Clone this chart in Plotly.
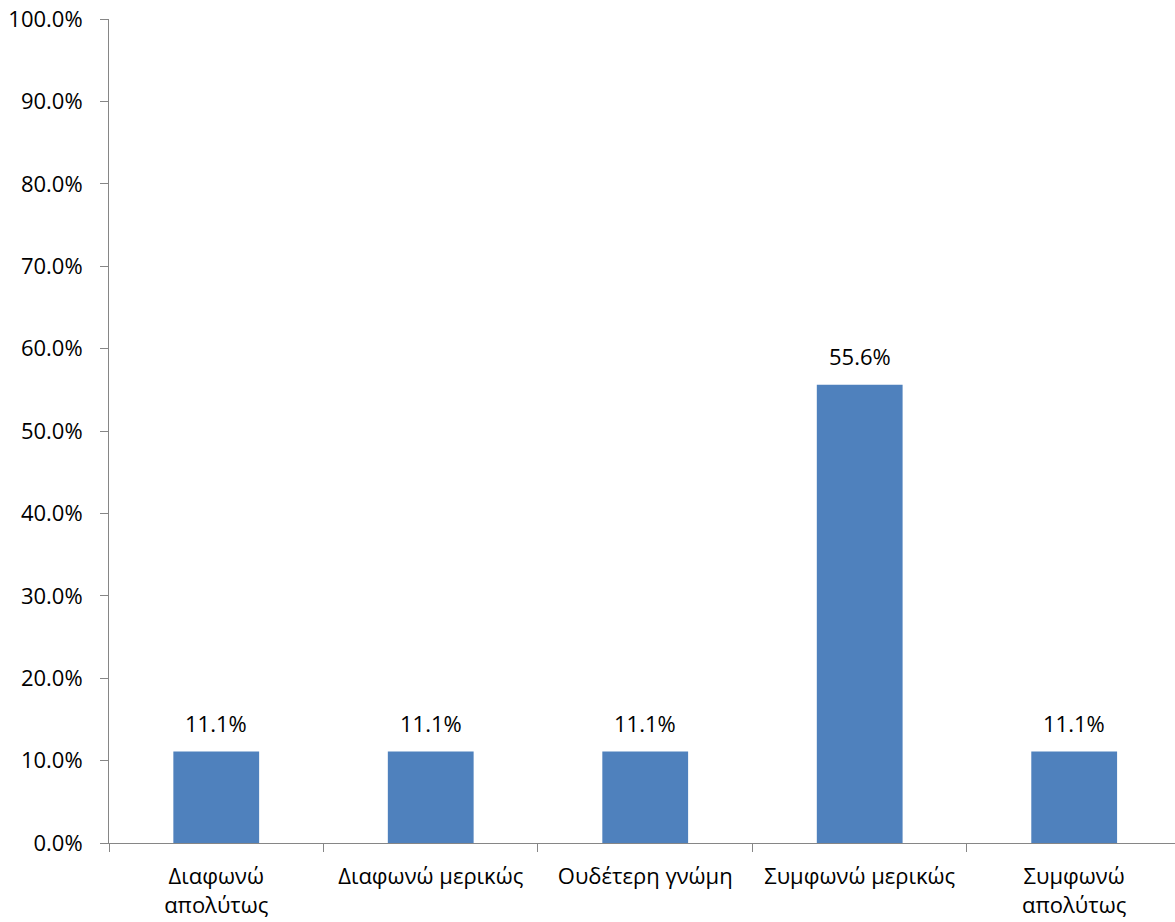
import plotly.graph_objects as go

categories = ["Διαφωνώ<br>απολύτως", "Διαφωνώ μερικώς", "Ουδέτερη γνώμη", "Συμφωνώ μερικώς", "Συμφωνώ<br>απολύτως"]
values = [0.111, 0.111, 0.111, 0.556, 0.111]
labels = ["11.1%", "11.1%", "11.1%", "55.6%", "11.1%"]
ytick_vals = [0, 0.1, 0.2, 0.3, 0.4, 0.5, 0.6, 0.7, 0.8, 0.9, 1.0]

FONT = "Open Sans"
FS = 22
fig = go.Figure()
fig.add_trace(go.Bar(x=categories, y=values, marker=dict(color="#4F81BD", line=dict(width=0)),
                     hoverinfo="skip"))
for c, v, t in zip(categories, values, labels):
    fig.add_annotation(x=c, y=v, text=t, showarrow=False, yanchor="bottom", yshift=12,
                       font=dict(family=FONT, size=FS, color="#000000"))

fig.update_layout(
    width=1175, height=922,
    margin=dict(l=109, r=0, t=19, b=79),
    paper_bgcolor="white", plot_bgcolor="white",
    bargap=0.6, showlegend=False,
    font=dict(family=FONT, size=FS, color="#000000"),
)
fig.update_xaxes(type="category", range=[-0.5, 4.47], tickson="boundaries", ticks="outside",
                 ticklen=8, tickcolor="#868686", showline=True, linecolor="#868686", linewidth=1,
                 showgrid=False, tickfont=dict(family=FONT, size=FS), ticklabelstandoff=14,
                 ticklabeloverflow="allow", automargin=False)
fig.update_yaxes(range=[0, 1.0], tickvals=ytick_vals, tickformat=".1%", ticks="outside",
                 ticklen=8, tickcolor="#868686", showline=True, linecolor="#868686", linewidth=1,
                 showgrid=False, zeroline=False, tickfont=dict(family=FONT, size=FS),
                 ticklabelstandoff=13, ticklabeloverflow="allow", automargin=False)

fig.write_html("out.html", config={"displayModeBar": False},
               post_script="document.body.style.margin='0';document.body.style.overflow='hidden';")
